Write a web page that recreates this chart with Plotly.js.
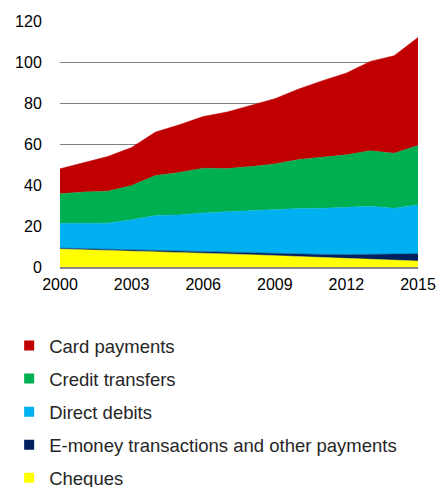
<!DOCTYPE html>
<html>
<head>
<meta charset="utf-8">
<script src="https://cdn.plot.ly/plotly-3.0.1.min.js"></script>
<style>
html,body{margin:0;padding:0;background:#fff;}
#chart{width:438px;height:487px;}
</style>
</head>
<body>
<div id="chart"></div>
<script>
const years = [2000,2001,2002,2003,2004,2005,2006,2007,2008,2009,2010,2011,2012,2013,2014,2015];
const cheques = [8.8,8.5,8.2,7.9,7.6,7.2,6.8,6.4,6.0,5.6,5.2,4.8,4.4,4.0,3.5,2.9];
const eMoney = [0.4,0.4,0.5,0.5,0.6,0.6,0.7,0.8,0.9,1.0,1.1,1.3,1.6,2.0,2.8,3.5];
const directDebits = [12.1,12.5,12.7,14.6,16.9,17.6,18.9,19.7,20.5,21.2,22.2,22.5,23.2,23.6,22.4,23.9];
const creditTransfers = [14.4,15.2,15.6,16.7,19.5,20.7,21.8,21.1,21.6,22.5,23.9,25.0,25.5,27.1,26.8,29.0];
const cardPayments = [12.2,14.2,16.9,18.6,21.2,23.3,25.2,27.6,29.8,31.8,34.4,37.3,39.9,43.6,47.6,52.7];
const xTicks = [2000,2003,2006,2009,2012,2015];
const yTicks = [0,20,40,60,80,100,120];

const series = [
  {name:'Cheques', y:cheques, color:'#FFFF00'},
  {name:'E-money transactions and other payments', y:eMoney, color:'#002060'},
  {name:'Direct debits', y:directDebits, color:'#00B0F0'},
  {name:'Credit transfers', y:creditTransfers, color:'#00B050'},
  {name:'Card payments', y:cardPayments, color:'#C00000'}
];

const traces = series.map(s => ({
  type:'scatter', mode:'lines', x:years, y:s.y, name:s.name,
  stackgroup:'one', fillcolor:s.color,
  line:{color:s.color, width:0.5, shape:'linear'},
  showlegend:false, hoverinfo:'skip'
}));

const legendOrder = series.slice().reverse();
legendOrder.forEach((s,i) => {
  traces.push({
    type:'scatter', mode:'markers', x:[null], y:[null], name:s.name,
    legendgroup:'g'+i,
    marker:{symbol:'square', size:10, color:s.color},
    showlegend:true, hoverinfo:'skip'
  });
});

const layout = {
  width:438, height:487,
  margin:{l:60, r:20, t:21, b:220, autoexpand:false},
  paper_bgcolor:'#fff', plot_bgcolor:'#fff',
  font:{family:'Liberation Sans, Arial, sans-serif', color:'#000', size:15},
  showlegend:true,
  legend:{
    x:-0.142, xanchor:'left', y:-0.244, yanchor:'top',
    orientation:'v', traceorder:'grouped',
    font:{size:18.5, color:'#262626'},
    tracegroupgap:6, bgcolor:'rgba(0,0,0,0)'
  },
  xaxis:{
    range:[2000,2015], tickvals:xTicks, ticktext:xTicks.map(String),
    showgrid:false, zeroline:false,
    showline:true, linecolor:'#888', linewidth:2,
    ticks:'outside', ticklen:2, tickcolor:'rgba(0,0,0,0)',
    tickfont:{size:16}
  },
  yaxis:{
    range:[0,120], tickvals:yTicks, ticktext:yTicks.map(String),
    showgrid:true, gridcolor:'#808080', gridwidth:1,
    zeroline:false, showline:false,
    ticks:'outside', ticklen:14, tickcolor:'rgba(0,0,0,0)',
    tickfont:{size:16}
  }
};

Plotly.newPlot('chart', traces, layout, {displayModeBar:false, staticPlot:true});
</script>
</body>
</html>
